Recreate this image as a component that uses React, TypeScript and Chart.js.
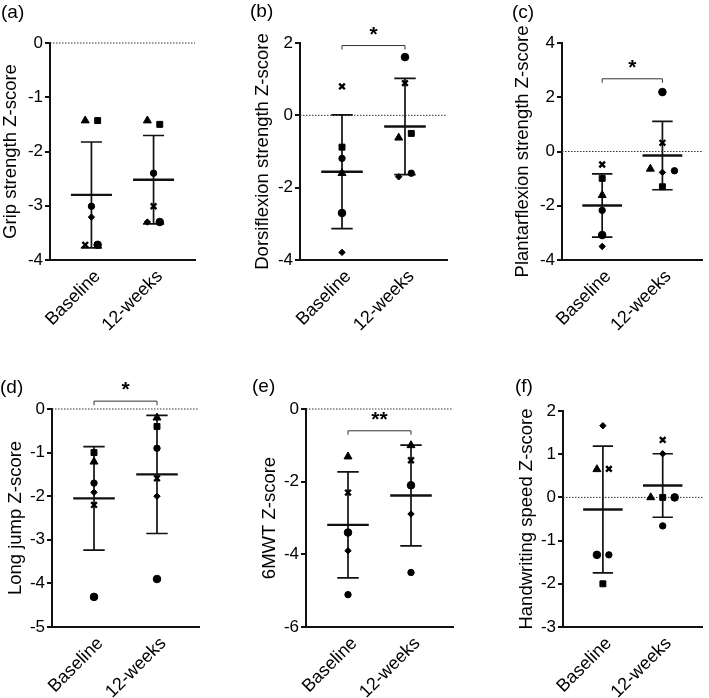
import React, { useEffect, useRef } from 'react';
import { Chart, registerables } from 'chart.js';

Chart.register(...registerables);

const FONT = "'Liberation Sans', Arial, Helvetica, sans-serif";
const INK = '#000000';

// ---- categories / subjects ----
const timepoints = ['Baseline', '12-weeks'];
// subjects: triangle, square, cross, big circle, medium circle, small diamond
const subjectShapes = ['triangle', 'rect', 'crossRot', 'circle', 'circle', 'rectRot'];
const subjectRadii = [4.6, 4.2, 4, 3.8, 3.2, 3.2];
const jitterOrder = [0, 2, 5, 1, 3, 4];

// ---- (a) Grip strength ----
const gripBaseline = [-1.43, -1.43, -3.72, -3.72, -3.01, -3.21];
const grip12w = [-1.43, -1.5, -3.01, -3.3, -2.4, -3.3];
const gripMean = [-2.8, -2.52];
const gripSD = [0.975, 0.815];
const gripTicks = [-4, 0, 1];

// ---- (b) Dorsiflexion strength ----
const dorsiBaseline = [-1.6, -0.88, 0.8, -2.7, -1.19, -3.79];
const dorsi12w = [-0.62, -0.5, 0.89, 1.61, -1.6, -1.7];
const dorsiMean = [-1.56, -0.31];
const dorsiSD = [1.57, 1.33];
const dorsiTicks = [-4, 2, 2];
const dorsiSig = { level: 1.93, label: '*' };

// ---- (c) Plantarflexion strength ----
const plantarBaseline = [-1.61, -0.99, -0.48, -3.08, -2.17, -3.5];
const plantar12w = [-0.64, -1.3, 0.32, 2.19, -0.71, -0.77];
const plantarMean = [-1.99, -0.15];
const plantarSD = [1.165, 1.26];
const plantarTicks = [-4, 4, 2];
const plantarSig = { level: 2.68, label: '*' };

// ---- (d) Long jump ----
const jumpBaseline = [-1.21, -1.0, -2.2, -4.31, -1.7, -1.91];
const jump12w = [-0.2, -0.4, -1.59, -3.9, -0.9, -2.0];
const jumpMean = [-2.05, -1.5];
const jumpSD = [1.185, 1.355];
const jumpTicks = [-5, 0, 1];
const jumpSig = { level: 0.18, label: '*' };

// ---- (e) 6MWT ----
const walkBaseline = [-1.31, null, -2.3, -3.4, -5.11, -3.9];
const walk12w = [-1.0, null, -1.41, -2.1, -4.5, -2.89];
const walkMean = [-3.19, -2.38];
const walkSD = [1.46, 1.385];
const walkTicks = [-6, 0, 2];
const walkSig = { level: -0.6, label: '**' };

// ---- (f) Handwriting speed ----
const writeBaseline = [0.65, -2.0, 0.66, -1.33, -1.33, 1.66];
const write12w = [0.0, 0.0, 1.33, 0.0, -0.66, 1.01];
const writeMean = [-0.28, 0.275];
const writeSD = [1.465, 0.735];
const writeTicks = [-3, 2, 1];

type Panel = {
  letter: string;
  title: string;
  baseline: (number | null)[];
  week12: (number | null)[];
  mean: number[];
  sd: number[];
  yTicks: number[];
  sig?: { level: number; label: string };
  left: number; top: number; width: number; height: number;
  chartLeft: number; chartRight: number; chartTop: number; chartBottom: number;
  titleX: number; letterX: number; letterY: number;
};

const panels: Panel[] = [
  { letter: '(a)', title: 'Grip strength Z-score', baseline: gripBaseline, week12: grip12w, mean: gripMean, sd: gripSD, yTicks: gripTicks,
    left: 0, top: 0, width: 236, height: 340, chartLeft: 50, chartRight: 195, chartTop: 43, chartBottom: 260, titleX: 10.5, letterX: 1, letterY: 13 },
  { letter: '(b)', title: 'Dorsiflexion strength Z-score', baseline: dorsiBaseline, week12: dorsi12w, mean: dorsiMean, sd: dorsiSD, yTicks: dorsiTicks, sig: dorsiSig,
    left: 236, top: 0, width: 236, height: 340, chartLeft: 300, chartRight: 447, chartTop: 43, chartBottom: 260, titleX: 263, letterX: 250, letterY: 12 },
  { letter: '(c)', title: 'Plantarflexion strength Z-score', baseline: plantarBaseline, week12: plantar12w, mean: plantarMean, sd: plantarSD, yTicks: plantarTicks, sig: plantarSig,
    left: 472, top: 0, width: 237, height: 340, chartLeft: 562, chartRight: 708, chartTop: 43, chartBottom: 260, titleX: 523, letterX: 512, letterY: 13 },
  { letter: '(d)', title: 'Long jump Z-score', baseline: jumpBaseline, week12: jump12w, mean: jumpMean, sd: jumpSD, yTicks: jumpTicks, sig: jumpSig,
    left: 0, top: 340, width: 236, height: 358, chartLeft: 52, chartRight: 199, chartTop: 409, chartBottom: 627, titleX: 16, letterX: 0, letterY: 388 },
  { letter: '(e)', title: '6MWT Z-score', baseline: walkBaseline, week12: walk12w, mean: walkMean, sd: walkSD, yTicks: walkTicks, sig: walkSig,
    left: 236, top: 340, width: 236, height: 358, chartLeft: 306, chartRight: 453, chartTop: 409, chartBottom: 627, titleX: 270, letterX: 252, letterY: 387 },
  { letter: '(f)', title: 'Handwriting speed Z-score', baseline: writeBaseline, week12: write12w, mean: writeMean, sd: writeSD, yTicks: writeTicks,
    left: 472, top: 340, width: 237, height: 358, chartLeft: 563, chartRight: 708, chartTop: 411, chartBottom: 627, titleX: 527, letterX: 515, letterY: 387 },
];

// spread overlapping points of one group horizontally
function jitter(values: (number | null)[], range: number, plotH: number): number[] {
  const thr = (6 * range) / plotH;
  const offs = values.map(() => 0);
  const idx = values.map((v, i) => i).filter((i) => values[i] !== null);
  idx.sort((a, b) => (values[b] as number) - (values[a] as number));
  const clusters: number[][] = [];
  idx.forEach((i) => {
    const last = clusters[clusters.length - 1];
    if (last && Math.abs((values[last[last.length - 1]] as number) - (values[i] as number)) < thr) last.push(i);
    else clusters.push([i]);
  });
  clusters.forEach((c) => {
    if (c.length < 2) return;
    c.sort((a, b) => jitterOrder.indexOf(a) - jitterOrder.indexOf(b));
    c.forEach((i, k) => { offs[i] = (k - (c.length - 1) / 2) * 0.2; });
  });
  return offs;
}

function PanelChart({ p }: { p: Panel }) {
  const ref = useRef<HTMLCanvasElement>(null);
  useEffect(() => {
    const canvas = ref.current!;
    const [yMin, yMax, yStep] = p.yTicks;
    const plotH = p.chartBottom - p.chartTop;
    const offB = jitter(p.baseline, yMax - yMin, plotH);
    const offW = jitter(p.week12, yMax - yMin, plotH);
    const titleSize = 18.5;
    const padL = Math.max(0, p.titleX - p.left - titleSize * 0.6);

    const datasets = subjectShapes.map((shape, s) => {
      const pts: { x: number; y: number }[] = [];
      if (p.baseline[s] !== null) pts.push({ x: 0 + offB[s], y: p.baseline[s] as number });
      if (p.week12[s] !== null) pts.push({ x: 1 + offW[s], y: p.week12[s] as number });
      return {
        type: 'scatter' as const,
        data: pts,
        pointStyle: shape,
        pointRadius: subjectRadii[s],
        pointHoverRadius: subjectRadii[s],
        backgroundColor: INK,
        borderColor: INK,
        borderWidth: shape === 'crossRot' ? 2.4 : 1,
      };
    });

    const overlay = {
      id: 'overlay',
      beforeDatasetsDraw(chart: any) {
        const { ctx, chartArea } = chart;
        const xs = chart.scales.x;
        const ys = chart.scales.y;
        ctx.save();
        // zero reference line
        const y0 = ys.getPixelForValue(0);
        ctx.strokeStyle = '#333';
        ctx.lineWidth = 1;
        ctx.setLineDash([1.5, 1.5]);
        ctx.beginPath();
        ctx.moveTo(chartArea.left, y0);
        ctx.lineTo(chartArea.right, y0);
        ctx.stroke();
        ctx.setLineDash([]);
        // mean +/- SD
        ctx.strokeStyle = '#111';
        p.mean.forEach((m, g) => {
          const xc = xs.getPixelForValue(g);
          const yt = ys.getPixelForValue(m + p.sd[g]);
          const yb = ys.getPixelForValue(m - p.sd[g]);
          const ym = ys.getPixelForValue(m);
          const capL = xs.getPixelForValue(g - 0.17);
          const capR = xs.getPixelForValue(g + 0.17);
          const mL = xs.getPixelForValue(g - 0.33);
          const mR = xs.getPixelForValue(g + 0.33);
          ctx.lineWidth = 1.7;
          ctx.beginPath();
          ctx.moveTo(xc, yt); ctx.lineTo(xc, yb);
          ctx.moveTo(capL, yt); ctx.lineTo(capR, yt);
          ctx.moveTo(capL, yb); ctx.lineTo(capR, yb);
          ctx.stroke();
          ctx.lineWidth = 2.4;
          ctx.beginPath();
          ctx.moveTo(mL, ym); ctx.lineTo(mR, ym);
          ctx.stroke();
        });
        ctx.restore();
      },
      afterDraw(chart: any) {
        const { ctx } = chart;
        const xs = chart.scales.x;
        const ys = chart.scales.y;
        ctx.save();
        if (p.sig) {
          const yb = ys.getPixelForValue(p.sig.level);
          const x0 = xs.getPixelForValue(0);
          const x1 = xs.getPixelForValue(1);
          ctx.strokeStyle = '#333';
          ctx.lineWidth = 1;
          ctx.beginPath();
          ctx.moveTo(x0, yb + 4); ctx.lineTo(x0, yb); ctx.lineTo(x1, yb); ctx.lineTo(x1, yb + 4);
          ctx.stroke();
          ctx.fillStyle = INK;
          ctx.font = `bold 21px ${FONT}`;
          ctx.textAlign = 'center';
          ctx.textBaseline = 'alphabetic';
          ctx.fillText(p.sig.label, (x0 + x1) / 2, yb + 12 - 17);
        }
        ctx.fillStyle = INK;
        ctx.font = `19px ${FONT}`;
        ctx.textAlign = 'left';
        ctx.textBaseline = 'middle';
        ctx.fillText(p.letter, p.letterX - p.left, p.letterY - p.top);
        ctx.restore();
      },
    };

    const chart = new Chart(canvas, {
      type: 'scatter',
      data: { datasets },
      plugins: [overlay],
      options: {
        animation: false,
        responsive: false,
        events: [],
        layout: {
          padding: {
            left: padL,
            top: p.chartTop - p.top,
            right: p.left + p.width - p.chartRight,
            bottom: 0,
          },
        },
        plugins: { legend: { display: false }, tooltip: { enabled: false } },
        scales: {
          x: {
            type: 'linear',
            min: -0.667,
            max: 1.667,
            afterBuildTicks: (scale: any) => { scale.ticks = [{ value: 0.1 }, { value: 1.1 }]; },
            afterFit: (scale: any) => { scale.height = p.top + p.height - p.chartBottom; },
            grid: { display: false, drawTicks: false },
            border: { display: true, color: '#111', width: 2 },
            ticks: {
              autoSkip: false,
              minRotation: 45,
              maxRotation: 45,
              padding: 6,
              color: INK,
              font: { family: FONT, size: 18 },
              callback: (v: any) => timepoints[Math.round(Number(v))],
            },
          },
          y: {
            type: 'linear',
            min: yMin,
            max: yMax,
            afterFit: (scale: any) => { scale.width = p.chartLeft - p.left - padL; },
            grid: { drawOnChartArea: false, drawTicks: true, tickLength: 5, color: '#111', lineWidth: 2 },
            border: { display: true, color: '#111', width: 2 },
            ticks: { stepSize: yStep, padding: 2, color: INK, font: { family: FONT, size: 17 } },
            title: { display: true, text: p.title, color: INK, padding: 0, font: { family: FONT, size: titleSize } },
          },
        },
      } as any,
    });
    return () => chart.destroy();
  }, [p]);

  return (
    <canvas
      ref={ref}
      width={p.width}
      height={p.height}
      style={{ position: 'absolute', left: p.left, top: p.top, width: p.width, height: p.height, display: 'block' }}
    />
  );
}

export default function App() {
  return (
    <div style={{ position: 'fixed', left: 0, top: 0, width: 709, height: 698, background: '#fff', overflow: 'hidden' }}>
      {panels.map((p) => (
        <PanelChart key={p.letter} p={p} />
      ))}
    </div>
  );
}
